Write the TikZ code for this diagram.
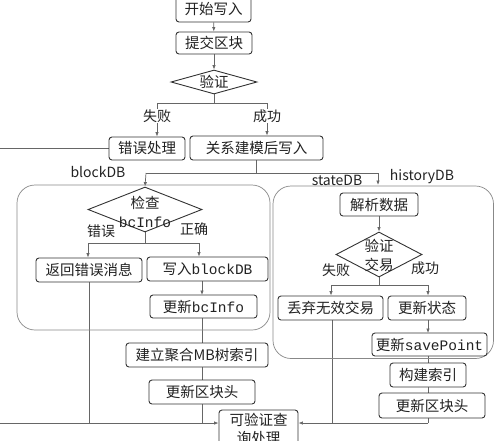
\documentclass[tikz,border=0pt]{standalone}
\usepackage{fontspec}
\setmainfont{Noto Sans CJK SC}
\newfontfamily\lat{Liberation Mono}
\usetikzlibrary{shapes.geometric,arrows.meta,backgrounds}
\definecolor{boxc}{HTML}{333333}
\definecolor{linec}{HTML}{666666}
\definecolor{contc}{HTML}{888888}
\definecolor{txtc}{HTML}{222222}
\tikzset{
 box/.style={draw=boxc, line width=0.9pt, rounded corners=3pt, fill=white, inner sep=0pt, align=center, font=\fontsize{14.5}{18}\selectfont, text=txtc},
 sz/.style 2 args={minimum width=#1pt, minimum height=#2pt},
 dia/.style={diamond, draw=boxc, line width=0.9pt, fill=white, inner sep=0pt},
 diatext/.style={align=center, inner sep=0pt, font=\fontsize{14.5}{19}\selectfont, text=txtc},
 con/.style={draw=linec, line width=0.7pt},
 arr/.style={con, -{Latex[length=4.5pt,width=3.5pt]}},
 lab/.style={font=\fontsize{14}{16}\selectfont, text=txtc, inner sep=1pt},
 cont/.style={draw=contc, line width=0.7pt, rounded corners=18pt},
}
\begin{document}
\begin{tikzpicture}[x=1pt,y=-1pt]
\useasboundingbox (0,0) rectangle (494,440);
% containers
\draw[cont] (17,185) rectangle (270,330);
\draw[cont] (273,186) rectangle (493.5,358.5);
% nodes
\node[box,sz={75}{25}] (n1) at (213.5,9.5) {开始写入};
\node[box,sz={76}{22}] (n2) at (214,43) {提交区块};
\node[dia,sz={86}{24}] (v1) at (214,82) {};
\node[diatext] at (v1) {验证};
\node[box,sz={76}{23}] (err) at (147,148.5) {错误处理};
\node[box,sz={133}{24}] (rel) at (256.5,148) {关系建模后写入};
\node[dia,sz={114}{45}] (chk) at (145,209.5) {};
\node[diatext] at (145,212) {检查\\{\lat bcInfo}};
\node[box,sz={106}{24}] (ret) at (89,270) {返回错误消息};
\node[box,sz={121}{24}] (wbd) at (207.5,269) {写入{\lat blockDB}};
\node[box,sz={107}{23}] (ubc) at (203.5,306.5) {更新{\lat bcInfo}};
\node[box,sz={142}{24}] (mb) at (197,355) {建立聚合MB树索引};
\node[box,sz={106}{24}] (uh1) at (202,392) {更新区块头};
\node[box,sz={79}{38}] (vq) at (258.5,429) {可验证查\\询处理};
\node[box,sz={78}{23}] (pd) at (379,204.5) {解析数据};
\node[dia,sz={86}{45}] (vt) at (379,254.5) {};
\node[diatext] at (379,255) {验证\\交易};
\node[box,sz={105}{24}] (dis) at (330.5,308) {丢弃无效交易};
\node[box,sz={78}{24}] (ust) at (427,308) {更新状态};
\node[box,sz={115}{23}] (sp) at (429.5,344.5) {更新{\lat savePoint}};
\node[box,sz={76}{24}] (idx) at (428,375) {构建索引};
\node[box,sz={106}{25}] (uh2) at (432,405.5) {更新区块头};
% labels
\node[lab] (lbd) at (98,172.5) {blockDB};
\node[lab] (lsd) at (337,180.5) {stateDB};
\node[lab] (lhd) at (422,176.5) {historyDB};
\node[lab] (le) at (101,231) {错误};
\node[lab] (lc) at (194,229) {正确};
\node[lab] (lf2) at (336,270) {失败};
\node[lab] (ls2) at (425,268) {成功};
\coordinate (bl) at (0,423);
\coordinate (sL) at (157,103);
\coordinate (sR) at (267,103);
\coordinate (tL) at (146,173);
\coordinate (tR) at (378,173);
\coordinate (cL) at (88,243);
\coordinate (cR) at (199,243);
\coordinate (vL) at (331,285);
\coordinate (vR) at (428,285);
\begin{scope}[on background layer]
\draw[arr] (n1) -- (n2);
\draw[arr] (n2) -- (v1);
\draw[con] (v1.south) -- (v1.south |- sL);
\draw[con] (sL) -- (sR);
\draw[arr] (sL) -- (sL |- err.north);
\draw[arr] (sR) -- (sR |- rel.north);
\draw[con] (err.west) -- (-3,148.5) -- (-3,423) -- (bl);
\draw[arr] (bl) -- (vq.west |- bl);
\draw[con] (rel.south) -- (rel.south |- tL);
\draw[con] (tL) -- (tR);
\draw[arr] (tL) -- (chk.north);
\draw[arr] (tR) -- (378,185);
\draw[con] (chk.south) -- (chk.south |- cL);
\draw[con] (cL) -- (cR);
\draw[arr] (cL) -- (cL |- ret.north);
\draw[arr] (cR) -- (cR |- wbd.north);
\draw[arr] (202,281) -- (202,295);
\draw[con] (ret.south) -- (ret.south |- bl);
\draw[con] (202,318) -- (202,423);
\draw[arr] (pd) -- (vt);
\draw[con] (vt.south) -- (vt.south |- vL);
\draw[con] (vL) -- (vR);
\draw[arr] (vL) -- (vL |- dis.north);
\draw[arr] (vR) -- (vR |- ust.north);
\draw[arr] (428,320) -- (428,333);
\draw[con] (332,320) -- (332,423);
\draw[con] (428,356) -- (428,423);
\draw[arr] (428,423) -- (vq.east |- bl);
\end{scope}
% labels over lines
\node[lab,fill=white] (lf) at (157,116) {失败};
\node[lab,fill=white] (ls) at (267,116) {成功};
\end{tikzpicture}
\end{document}
